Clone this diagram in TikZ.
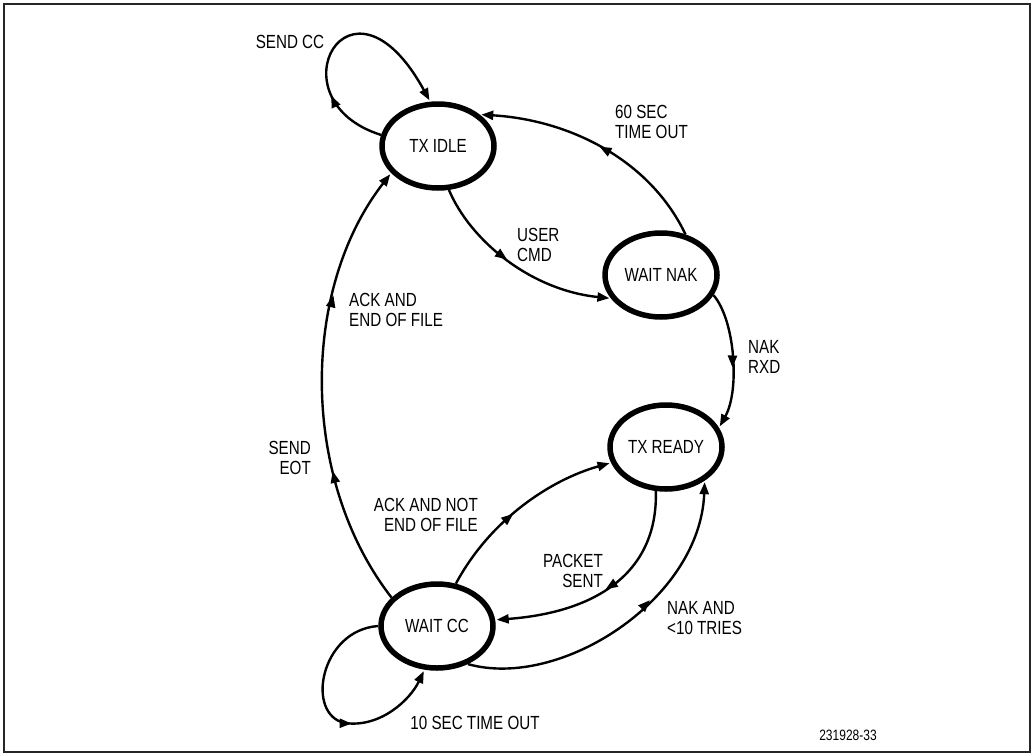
\documentclass[tikz,border=0pt]{standalone}
\usepackage{fontspec}
\setmainfont{Liberation Sans}[FakeStretch=0.8]
\usetikzlibrary{shapes.geometric,arrows.meta,decorations.markings}
\newcommand\dgfont{\fontsize{19}{20}\selectfont}
\begin{document}
\begin{tikzpicture}[x=1pt,y=-1pt,
  >={Triangle[length=12pt,width=9pt]},
  state/.style={ellipse,draw,line width=5.5pt,minimum width=112pt,minimum height=84pt,inner sep=0pt,font=\dgfont},
  conn/.style={line width=2.4pt,-{Triangle[length=12pt,width=9pt]},shorten >=1.5pt},
  midarrow/.style={postaction={decorate,decoration={markings,mark=at position #1 with {\arrow{>}}}}},
  lbl/.style={inner sep=0pt,font=\dgfont}]
\useasboundingbox (0,0) rectangle (1032,755);
\draw[line width=1.5pt,black!85] (4,4) rectangle (1030,752);

\node[state] (idle) at (438,146) {TX IDLE};
\node[state] (nak) at (661,275) {WAIT NAK};
\node[state] (ready) at (666,447) {TX READY};
\node[state] (cc) at (437,626) {WAIT CC};

% SEND CC self loop
\draw[conn,midarrow=0.27] (idle.169) .. controls (270,100) and (350,-45) .. (idle.100);
% 60 SEC TIME OUT
\draw[conn,midarrow=0.5] (nak.59) .. controls (650,160) and (570,120) .. (idle.37);
% USER CMD
\draw[conn,midarrow=0.45] (idle.284) .. controls (470,240) and (530,290) .. (nak.205);
% NAK RXD
\draw[conn,midarrow=0.55] (nak.339) .. controls (735,320) and (740,390) .. (ready.20);
% SEND EOT / ACK AND END OF FILE
\draw[conn,midarrow=0.31,midarrow=0.7] (cc.148) .. controls (300,480) and (300,290) .. (idle.210);
% ACK AND NOT END OF FILE
\draw[conn,midarrow=0.45] (cc.66) .. controls (490,520) and (550,480) .. (ready.196);
% PACKET SENT
\draw[conn,midarrow=0.5] (ready.257) .. controls (658,570) and (600,612) .. (cc.6);
% NAK AND <10 TRIES
\draw[conn,midarrow=0.6] (cc.309) .. controls (560,690) and (700,600) .. (ready.319);
% 10 SEC TIME OUT loop
\coordinate (lp) at (345,723);
\draw[conn,midarrow=0.6] (cc.180) .. controls (320,630) and (305,715) .. (lp) .. controls (380,728) and (410,700) .. (cc.254);

\node[lbl] (l1) at (290,42) {SEND CC};
\node[lbl,anchor=west,align=left] (l2) at (615,122) {60 SEC\\TIME OUT};
\node[lbl,anchor=west,align=left] (l3) at (517,245) {USER\\CMD};
\node[lbl,anchor=west,align=left] (l4) at (748,357) {NAK\\RXD};
\node[lbl,anchor=west,align=left] (l5) at (349,310) {ACK AND\\END OF FILE};
\node[lbl,anchor=east,align=right] (l6) at (311,458) {SEND\\EOT};
\node[lbl,anchor=east,align=right] (l7) at (478,515) {ACK AND NOT\\END OF FILE};
\node[lbl,anchor=east,align=right] (l8) at (603,571) {PACKET\\SENT};
\node[lbl,anchor=west,align=left] (l9) at (667,618) {NAK AND\\<10 TRIES};
\node[lbl] (l10) at (475,723) {10 SEC TIME OUT};
\node[lbl,font=\fontsize{15}{17}\selectfont] (l11) at (848,735) {231928-33};
\end{tikzpicture}
\end{document}
